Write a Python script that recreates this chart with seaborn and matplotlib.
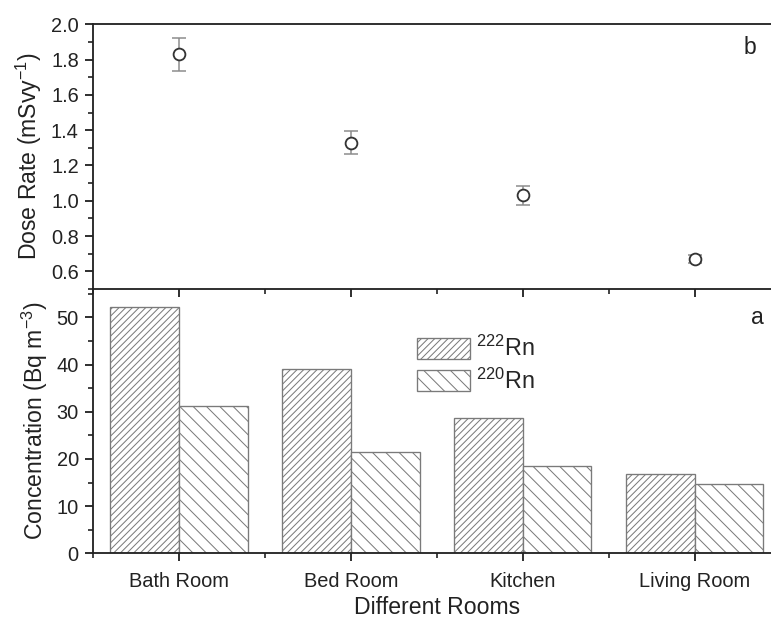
import numpy as np
import pandas as pd
import matplotlib
matplotlib.use("Agg")
import matplotlib.pyplot as plt
from matplotlib.ticker import MultipleLocator
import seaborn as sns

# ---- data -------------------------------------------------------------
rooms = ["Bath Room", "Bed Room", "Kitchen", "Living Room"]
rn222 = [52.1, 39.0, 28.6, 16.9]          # Bq m^-3
rn220 = [31.3, 21.4, 18.4, 14.6]          # Bq m^-3
dose = [1.83, 1.33, 1.03, 0.67]           # mSv y^-1
dose_err = [0.095, 0.066, 0.052, 0.02]
isotopes = [r"$^{222}$Rn", r"$^{220}$Rn"]

# ---- style -------------------------------------------------------------
sns.set_theme(style="ticks")
plt.rcParams["font.family"] = ["Liberation Sans", "DejaVu Sans"]
plt.rcParams["mathtext.fontset"] = "custom"
plt.rcParams["mathtext.rm"] = "Liberation Sans"
plt.rcParams["mathtext.it"] = "Liberation Sans"
plt.rcParams["hatch.linewidth"] = 0.6
plt.rcParams["hatch.color"] = "#8a8a8a"
plt.rcParams["axes.linewidth"] = 1.1

DPI = 120
fig = plt.figure(figsize=(771 / DPI, 626 / DPI), dpi=DPI)
L, W = 93 / 771, (780.5 - 93) / 771
ax_top = fig.add_axes([L, 1 - 289 / 626, W, (289 - 24.3) / 626])
ax_bot = fig.add_axes([L, 1 - 553.3 / 626, W, (553.3 - 289) / 626])

tick_fs = 12
label_fs = 13.8
ink = "#222222"

# ---- bottom panel: concentrations --------------------------------------
df = pd.DataFrame({
    "room": rooms * 2,
    "conc": rn222 + rn220,
    "isotope": [isotopes[0]] * len(rooms) + [isotopes[1]] * len(rooms),
})
sns.barplot(data=df, x="room", y="conc", hue="isotope", hue_order=isotopes,
            order=rooms, width=0.8, legend=False, ax=ax_bot,
            palette=["white", "white"], linewidth=0.8, edgecolor="#7a7a7a")
for cont, hatch in zip(ax_bot.containers, ["//////", "\\\\\\"]):
    for bar in cont:
        bar.set_hatch(hatch)
        bar.set_facecolor("white")
        bar.set_edgecolor("#7a7a7a")

ax_bot.set_xlim(-0.5, len(rooms) - 0.5)
ax_bot.set_ylim(0, 56)
ax_bot.yaxis.set_major_locator(MultipleLocator(10))
ax_bot.yaxis.set_minor_locator(MultipleLocator(5))
ax_bot.xaxis.set_minor_locator(MultipleLocator(0.5))
ax_bot.set_xlabel("Different Rooms", fontsize=label_fs, color=ink, labelpad=3)
ax_bot.set_ylabel(r"Concentration (Bq m$^{-3}$)", fontsize=label_fs, color=ink)
ax_bot.text(0.967, 0.894, "a", transform=ax_bot.transAxes, fontsize=label_fs,
            ha="center", va="center", color=ink)

leg = ax_bot.legend(handles=list(ax_bot.containers), labels=isotopes,
                    loc="upper left", bbox_to_anchor=(0.471, 0.822),
                    frameon=False, fontsize=14, handlelength=2.3,
                    handleheight=1.0, handletextpad=0.25, labelspacing=0.3,
                    borderpad=0, borderaxespad=0)

# ---- top panel: dose rate ----------------------------------------------
ax_top.errorbar(rooms, dose, yerr=dose_err, fmt="none", ecolor="#8a8a8a",
                elinewidth=0.9, capsize=4, capthick=0.9, zorder=2)
sns.scatterplot(x=rooms, y=dose, ax=ax_top, marker="o", s=50,
                facecolor="white", edgecolor="#333333", linewidth=1.1,
                zorder=3)
ax_top.set_xlim(-0.5, len(rooms) - 0.5)
ax_top.set_ylim(0.5, 2.0)
ax_top.yaxis.set_major_locator(MultipleLocator(0.2))
ax_top.yaxis.set_minor_locator(MultipleLocator(0.1))
ax_top.xaxis.set_major_locator(MultipleLocator(1))
ax_top.xaxis.set_minor_locator(MultipleLocator(0.5))
ax_top.set_xticklabels([])
ax_top.set_yticks(np.arange(0.6, 2.01, 0.2))
ax_top.set_yticklabels([f"{v:.1f}" for v in np.arange(0.6, 2.01, 0.2)])
ax_top.set_ylabel(r"Dose Rate (mSvy$^{-1}$)", fontsize=label_fs, color=ink)
ax_top.text(0.956, 0.914, "b", transform=ax_top.transAxes, fontsize=label_fs,
            ha="center", va="center", color=ink)

for ax in (ax_top, ax_bot):
    ax.tick_params(which="major", direction="out", length=5, width=1.1,
                   labelsize=tick_fs, colors=ink, top=False, right=False)
    ax.tick_params(which="minor", direction="out", length=3, width=1.0,
                   colors=ink, top=False, right=False)
    for s in ax.spines.values():
        s.set_color(ink)
    ax.patch.set_alpha(0)
ax_bot.tick_params(axis="x", which="major", pad=6)
ax_bot.spines["top"].set_visible(False)

fig.savefig("out.png", dpi=DPI, facecolor="white")
